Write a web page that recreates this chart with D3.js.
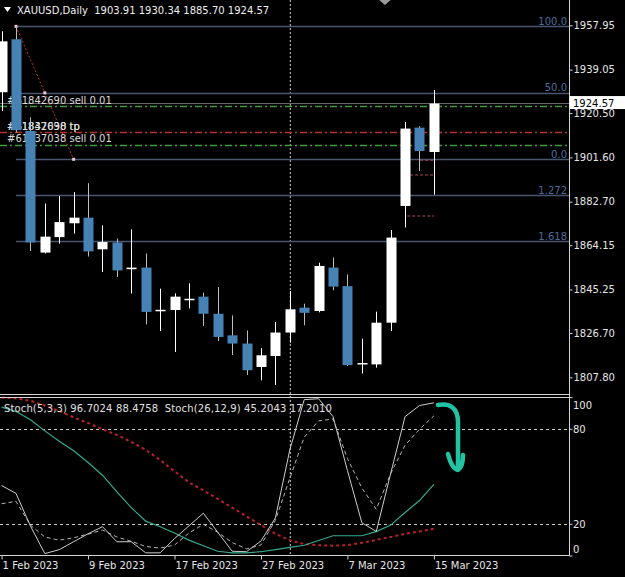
<!DOCTYPE html>
<html><head><meta charset="utf-8">
<script src="https://cdn.jsdelivr.net/npm/d3@7"></script>
<style>html,body{margin:0;padding:0;background:#000;overflow:hidden}svg{display:block}text{font-family:"DejaVu Sans",sans-serif;font-size:10px}</style>
</head><body><svg id="c" width="625" height="577"></svg>
<script>
const dates = ["1 Feb 2023","2 Feb 2023","3 Feb 2023","6 Feb 2023","7 Feb 2023","8 Feb 2023","9 Feb 2023","10 Feb 2023","13 Feb 2023","14 Feb 2023","15 Feb 2023","16 Feb 2023","17 Feb 2023","20 Feb 2023","21 Feb 2023","22 Feb 2023","23 Feb 2023","24 Feb 2023","27 Feb 2023","28 Feb 2023","1 Mar 2023","2 Mar 2023","3 Mar 2023","6 Mar 2023","7 Mar 2023","8 Mar 2023","9 Mar 2023","10 Mar 2023","13 Mar 2023","14 Mar 2023","15 Mar 2023"];
const open  = [1929.4,1952.0,1912.9,1861.0,1867.6,1873.5,1875.9,1862.4,1865.3,1853.9,1854.6,1836.2,1836.5,1840.9,1842.2,1834.9,1825.7,1822.2,1812.2,1816.9,1826.9,1837.5,1836.1,1854.6,1846.7,1813.4,1813.3,1831.1,1880.9,1914.3,1903.91];
const high  = [1955.4,1957.5,1918.7,1881.9,1885.1,1886.8,1890.6,1872.6,1867.0,1870.9,1860.6,1845.6,1843.6,1847.9,1843.9,1846.3,1834.2,1827.8,1820.2,1831.4,1844.6,1839.2,1856.7,1858.9,1851.7,1824.3,1835.8,1870.6,1916.7,1914.9,1930.34];
const low   = [1921.4,1912.3,1861.7,1860.6,1864.8,1869.1,1859.3,1852.7,1850.6,1843.5,1830.4,1827.5,1818.6,1837.2,1829.7,1823.3,1817.3,1808.8,1806.5,1804.5,1822.6,1830.0,1835.5,1844.9,1812.6,1809.4,1811.9,1827.5,1871.7,1895.8,1885.70];
const close = [1951.1,1913.2,1865.3,1867.8,1874.0,1875.9,1861.5,1865.5,1853.4,1854.6,1835.7,1836.6,1842.2,1841.3,1834.9,1825.0,1822.2,1810.8,1817.2,1826.9,1836.8,1835.3,1855.3,1846.5,1813.0,1813.9,1831.1,1867.4,1913.9,1904.3,1924.57];

const stoch5Main   = [44.5,39.5,19,1.5,4,9,14,18.5,9,9,2,2,11,19,27,15,3,2.7,9.5,24,67,98.7,99.3,88,54,21,15.5,52,88,95,96.7];
const stoch5Signal = [33,34.5,19.5,12,10,11.5,13.8,16.4,12,9.3,6,5,6.9,14.5,20,15,8.5,4.5,7,22.5,49,75,85.3,86.5,61.5,43,29.5,52,70,80,88.5];
const stoch26Main  = [94,91.2,86,79,72.5,66.5,59,51,40.5,30.5,22,18.5,14.5,10,6.5,3,2,2,2.7,4,5.5,6.8,9.8,12.8,12.8,12.8,15.4,19.5,27.5,35,45.2];
const stoch26Signal= [100,99.5,98,95,91.5,87.5,84,80,76.5,72,67,60.6,53.5,46.5,41.5,36,30.5,25,19.5,14,10,7.5,6.8,6.5,6.9,8.3,10.2,12,14,15.5,17.2];

const priceTicks = [1957.95,1939.05,1920.50,1901.60,1882.70,1864.15,1845.25,1826.70,1807.80];
const stochTicks = [100,80,20,0];
const stochLevels = [80,20];
const dateTicks = ["1 Feb 2023","9 Feb 2023","17 Feb 2023","27 Feb 2023","7 Mar 2023","15 Mar 2023"];

const fibLabels = ["100.0","50.0","0.0","1.272","1.618"];
const fibPrices = [1957.5,1929.15,1900.8,1885.4,1865.8];
const fibAnchorIdx = [1,5];
const tradeLabels = ["#61842690 sell 0.01","#61842690 tp","#61837038 tp","#61837038 sell 0.01"];
const tradeLabelPrices = [1924.3,1913.2,1913.2,1908.0];
const tradeLinePrices = [1923.6,1912.4,1907.1];
const tradeLineColors = ["#3d9b3d","#b83030","#3d9b3d"];
const markPrices = [1900.4,1894.1,1876.6];
const markStartIdx = [29.05,28.35,28.15];
const lastPrice = 1924.57;
const separatorIdx = 20;
const title = "XAUUSD,Daily  1903.91 1930.34 1885.70 1924.57";
const stochTitle = "Stoch(5,3,3) 96.7024 88.4758  Stoch(26,12,9) 45.2043 17.2010";

const W = 625, H = 577, PR = 569.5;
const svg = d3.select("#c");
svg.append("rect").attr("width",W).attr("height",H).attr("fill","#000");

const x = d3.scalePoint().domain(dates).range([1.6, 433.9]);
const xi = d3.scaleLinear().domain([0, dates.length-1]).range([1.6, 433.9]);
const y = d3.scaleLinear().domain([1807.80, 1957.95]).range([377.3, 25.3]);
const ys = d3.scaleLinear().domain([0,100]).range([556, 397.6]);

const main = svg.append("g");
main.append("line").attr("x1", xi(separatorIdx)+0.5).attr("x2", xi(separatorIdx)+0.5)
  .attr("y1",0).attr("y2",555).attr("stroke","#cfcfcf").attr("stroke-dasharray","2,2");

fibPrices.forEach((p,k)=>{
  main.append("line").attr("x1", x(dates[fibAnchorIdx[0]])).attr("x2", PR)
    .attr("y1", Math.round(y(p))+0.5).attr("y2", Math.round(y(p))+0.5)
    .attr("stroke","#48566f").attr("stroke-width",1.3);
  main.append("text").attr("x",567).attr("y", y(p)-1.5).attr("text-anchor","end")
    .attr("fill","#4d6c9c").text(fibLabels[k]);
});
main.append("line").attr("x1",0).attr("x2",PR).attr("y1",y(lastPrice)).attr("y2",y(lastPrice))
  .attr("stroke","#8a8a8a").attr("stroke-width",0.8);
tradeLinePrices.forEach((p,k)=>{
  main.append("line").attr("x1",0).attr("x2",PR).attr("y1",Math.round(y(p))+0.5).attr("y2",Math.round(y(p))+0.5)
    .attr("stroke",tradeLineColors[k]).attr("stroke-width",1.3).attr("stroke-dasharray","7,3,2,3");
});
const a0 = [x(dates[fibAnchorIdx[0]]), y(fibPrices[0])], a1 = [x(dates[fibAnchorIdx[1]]), y(fibPrices[2])];
main.append("line").attr("x1",a0[0]).attr("y1",a0[1]).attr("x2",a1[0]).attr("y2",a1[1])
  .attr("stroke","#c83030").attr("stroke-dasharray","2,2");
[a0,[(a0[0]+a1[0])/2,(a0[1]+a1[1])/2],a1].forEach(p=>{
  main.append("rect").attr("x",p[0]-1.5).attr("y",p[1]-1.5).attr("width",3).attr("height",3).attr("fill","#f0c8c8");
});
markPrices.forEach((p,k)=>{
  main.append("line").attr("x1",xi(markStartIdx[k])).attr("x2",xi(dates.length-1)).attr("y1",y(p)).attr("y2",y(p))
    .attr("stroke","#b04858").attr("stroke-dasharray","3,2");
});
tradeLabels.forEach((t,k)=>{
  main.append("text").attr("x",7).attr("y",y(tradeLabelPrices[k])).attr("fill","#dcdcdc").text(t);
});

const bw = 10;
const cg = main.append("g");
dates.forEach((d,i)=>{
  const up = close[i] >= open[i];
  const cx = Math.round(x(d));
  cg.append("line").attr("x1",cx+0.5).attr("x2",cx+0.5).attr("y1",y(high[i])).attr("y2",y(low[i]))
    .attr("stroke", up ? "#ffffff" : "#bdbdbd").attr("stroke-width",1);
  const top = y(Math.max(open[i],close[i])), bot = y(Math.min(open[i],close[i]));
  cg.append("rect").attr("x",cx-bw/2+0.5).attr("y",top).attr("width",bw).attr("height",Math.max(1.5,bot-top))
    .attr("fill", up ? "#ffffff" : "#4682b4");
});

const sg = svg.append("g");
stochLevels.forEach(v=>{
  sg.append("line").attr("x1",0).attr("x2",PR).attr("y1",Math.round(ys(v))+0.5).attr("y2",Math.round(ys(v))+0.5)
    .attr("stroke","#c8c8c8").attr("stroke-dasharray","3,3");
});
const line = d3.line().x((v,i)=>x(dates[i])).y(v=>ys(v));
sg.append("path").attr("d",line(stoch26Signal)).attr("fill","none").attr("stroke","#b82222").attr("stroke-width",2).attr("stroke-dasharray","3,3");
sg.append("path").attr("d",line(stoch26Main)).attr("fill","none").attr("stroke","#38a98f").attr("stroke-width",1.2);
sg.append("path").attr("d",line(stoch5Signal)).attr("fill","none").attr("stroke","#b4b4b4").attr("stroke-width",1).attr("stroke-dasharray","4,3");
sg.append("path").attr("d",line(stoch5Main)).attr("fill","none").attr("stroke","#cdcdcd").attr("stroke-width",1);
sg.append("text").attr("x",4).attr("y",411.5).attr("fill","#e0e0e0").attr("letter-spacing","0.13px").style("white-space","pre").text(stochTitle);

const ag = svg.append("g").attr("transform",`translate(${xi(dates.length-1)},${ys(100)})`);
ag.append("path").attr("d","M4.1,7.4 C16.1,5.4 24.1,10.4 24.1,24.4 L24.1,70.4 M14.1,56.4 C16.1,64.4 19.1,71.4 24.1,72.4 C27.1,70.4 29.1,64.4 29.1,57.4")
  .attr("fill","none").attr("stroke","#22c3a2").attr("stroke-width",4.5).attr("stroke-linecap","round").attr("stroke-linejoin","round");

const bc = "#d4d4d4";
svg.append("line").attr("x1",PR).attr("x2",PR).attr("y1",0).attr("y2",556).attr("stroke",bc);
svg.append("line").attr("x1",0).attr("x2",PR).attr("y1",394.5).attr("y2",394.5).attr("stroke",bc);
svg.append("line").attr("x1",0).attr("x2",PR).attr("y1",397.5).attr("y2",397.5).attr("stroke",bc);
svg.append("line").attr("x1",0).attr("x2",PR).attr("y1",555.5).attr("y2",555.5).attr("stroke",bc);

const pa = svg.append("g").attr("transform",`translate(${PR},0)`)
  .call(d3.axisRight(y).tickValues(priceTicks).tickFormat(d3.format(".2f")).tickSize(3).tickPadding(1));
pa.select(".domain").remove();
pa.selectAll("line").attr("stroke","#d4d4d4");
pa.selectAll("text").attr("fill","#e6e6e6").attr("font-family","DejaVu Sans").attr("font-size",10);

svg.append("rect").attr("x",PR).attr("y",y(lastPrice)-7.5).attr("width",W-PR).attr("height",13).attr("fill","#ffffff");
svg.append("text").attr("x",573).attr("y",y(lastPrice)+3.5).attr("fill","#000").text(d3.format(".2f")(lastPrice));

stochTicks.forEach(v=>{
  const ty = Math.min(549, Math.max(405, ys(v)));
  svg.append("line").attr("x1",PR).attr("x2",PR+3).attr("y1",ys(v)).attr("y2",ys(v)).attr("stroke","#d4d4d4");
  svg.append("text").attr("x",573).attr("y",ty+3.5).attr("fill","#e6e6e6").text(v);
});

const da = svg.append("g").attr("transform","translate(0,555.5)")
  .call(d3.axisBottom(x).tickValues(dateTicks).tickSize(4).tickPadding(2));
da.select(".domain").remove();
da.selectAll("line").attr("stroke","#d4d4d4");
da.selectAll("text").attr("fill","#e6e6e6").attr("font-family","DejaVu Sans").attr("font-size",10)
  .attr("text-anchor","start").attr("x",0.5).attr("dy","0.75em");

svg.append("path").attr("d","M4,7 L11,7 L7.5,12 Z").attr("fill","#ffffff");
svg.append("text").attr("x",17).attr("y",14).attr("fill","#f0f0f0").style("white-space","pre").text(title);
svg.append("path").attr("d",`M${xi(26.2)},0 L${xi(27)},0 L${(xi(26.2)+xi(27))/2},5 Z`).attr("fill","#9a9a9a");
</script></body></html>
